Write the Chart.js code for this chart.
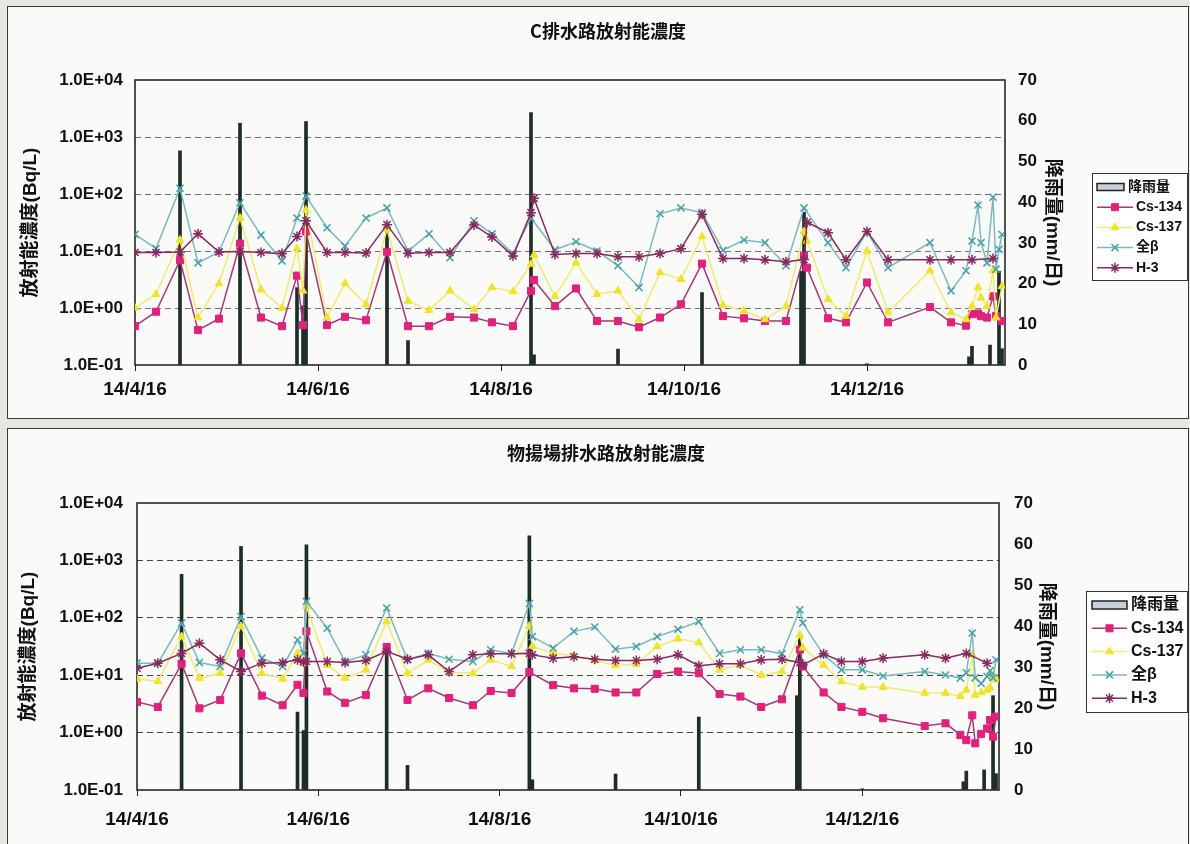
<!DOCTYPE html>
<html>
<head>
<meta charset="utf-8">
<script src="https://cdn.jsdelivr.net/npm/chart.js@4.4.1/dist/chart.umd.min.js"></script>
<style>
  body { margin: 0; width: 1190px; height: 844px; background: #e6e6e3; position: relative; overflow: hidden; }
  .panel { position: absolute; left: 7px; width: 1182px; background: #fafaf8; border: 1px solid #3a3a3a; box-sizing: border-box; }
  canvas { position: absolute; left: 8px; }
  .title { position: absolute; width: 400px; text-align: center; font: bold 18px 'Noto Sans CJK JP', sans-serif; line-height: 22px; color: #111; }
</style>
</head>
<body>
<div class="panel" style="top:6px;height:413px"></div>
<div class="panel" style="top:428px;height:420px"></div>
<canvas id="cDrain" width="1180" height="412" style="top:6px"></canvas>
<canvas id="wharf" width="1180" height="416" style="top:428px"></canvas>
<div class="title" style="left:408px;top:19px">C排水路放射能濃度</div>
<div class="title" style="left:406px;top:441px">物揚場排水路放射能濃度</div>

<script>
// 採水日
const sampleDates = [
    '2014-04-16', '2014-04-23', '2014-05-01', '2014-05-07', '2014-05-14', '2014-05-21', '2014-05-28', '2014-06-04', '2014-06-09', '2014-06-11',
    '2014-06-12', '2014-06-19', '2014-06-25', '2014-07-02', '2014-07-09', '2014-07-16', '2014-07-23', '2014-07-30', '2014-08-07', '2014-08-13',
    '2014-08-20', '2014-08-26', '2014-08-27', '2014-09-03', '2014-09-10', '2014-09-17', '2014-09-24', '2014-10-01', '2014-10-08', '2014-10-15',
    '2014-10-22', '2014-10-29', '2014-11-05', '2014-11-12', '2014-11-19', '2014-11-25', '2014-11-26', '2014-12-03', '2014-12-09', '2014-12-16',
    '2014-12-23', '2015-01-06', '2015-01-13', '2015-01-18', '2015-01-20', '2015-01-22', '2015-01-23', '2015-01-25', '2015-01-27', '2015-01-28',
    '2015-01-29', '2015-01-30'
];

// C排水路 (Bq/L)
const cDrainCs134 = [
    0.48, 0.86, 6.9, 0.41, 0.65, 13.5, 0.68, 0.48, 3.7, 0.5,
    22, 0.5, 0.70, 0.61, 9.7, 0.48, 0.48, 0.70, 0.68, 0.56,
    0.48, 2.0, 3.1, 1.08, 2.2, 0.59, 0.59, 0.46, 0.68, 1.16,
    6.0, 0.72, 0.66, 0.59, 0.59, 8.2, 5.1, 0.66, 0.56, 2.8,
    0.56, 1.04, 0.56, 0.49, 0.78, 0.8, 0.72, 0.68, 1.6, 0.72,
    null, 0.59
];
const cDrainCs137 = [
    1.0, 1.74, 15.6, 0.68, 2.7, 38, 2.1, 1.0, 11, 2.0,
    52, 0.68, 2.7, 1.16, 24, 1.33, 0.91, 2.0, 0.95, 2.3,
    1.95, 5.9, 8.5, 1.6, 6.2, 1.74, 2.0, 0.63, 4.2, 3.2,
    18, 1.13, 0.89, 0.63, 1.08, 22, 15, 1.42, 0.72, 10,
    0.83, 4.5, 0.83, 0.63, 1.08, 2.3, 1.5, 1.08, 4.5, 0.68,
    null, 2.4
];
const cDrainBeta = [
    19.6, 11, 126, 6.2, 9.6, 70, 19, 6.7, 38, null,
    92, 25.6, 12.2, 38, 57, 10, 20, 7.6, 34, 20,
    9, 38, null, 10.5, 14.5, 10, 5.5, 2.3, 45, 57,
    47, 10.3, 15.6, 14, 5.5, 57, null, 14, 5.1, 22,
    5.1, 14, 2.0, 4.5, 15, 64, 14, 6.2, 88, 4.8,
    10.7, 19.5
];
const cDrainH3 = [
    9.4, 9.4, 9.6, 20, 9.6, 9.8, 9.4, 9.0, 18, null,
    34, 9.4, 9.4, 9.2, 29, 9.1, 9.4, 9.4, 28.6, 17.6,
    8.2, 47, 84, 8.7, 9.0, 9.0, 7.9, 7.9, 9.0, 11,
    44, 7.4, 7.4, 7.0, 6.5, 7.1, 32, 21, 7.0, 22,
    7.0, 7.0, 7.0, null, 7.0, null, null, null, 7.4, null,
    null, null
];

// 物揚場排水路 (Bq/L)
const wharfCs134 = [
    3.4, 2.8, 15.8, 2.65, 3.7, 24, 4.4, 3.0, 6.8, 4.9,
    58, 5.2, 3.3, 4.5, 31, 3.7, 5.9, 4.0, 3.0, 5.3,
    4.9, 11.3, null, 6.7, 5.9, 5.8, 5.0, 5.0, 10.5, 11.6,
    10.8, 4.7, 4.25, 2.8, 3.8, 28, 14.2, 5.0, 2.8, 2.3,
    1.78, 1.3, 1.45, 0.91, 0.74, 2.0, 0.65, 0.95, 1.18, 1.65,
    0.85, 1.9
];
const wharfCs137 = [
    8.6, 7.8, 47, 8.9, 10.8, 71, 10.8, 8.6, 24, 16,
    158, 15, 8.9, 12.4, 86, 10.8, 18.5, 11.1, 10.8, 18.5,
    14.2, 72, 32, 24, 22, 18, 14.8, 15.5, 31.6, 43,
    37, 12.4, 15, 10, 11.6, 50, 30, 15, 7.8, 6.2,
    6.2, 4.9, 4.9, 4.3, 5.5, 22.6, 4.5, 5.0, 5.5, 6.0,
    10, 8.4
];
const wharfBeta = [
    16.2, 16.2, 81, 16.6, 14.2, 105, 19.8, 14.2, 41, 24,
    193, 66, 17.3, 22.6, 148, 18.5, 24, 19, 17.3, 27.7,
    24, 178, 47, 29.6, 58, 69, 28.4, 31.6, 47, 63,
    86, 24, 27.7, 27.7, 23.6, 138, 81, 22.6, 12.4, 12.4,
    9.7, 11.6, 10.1, 8.9, 11, 54, 9, 7.2, 9.5, 12,
    9, 18.6
];
const wharfH3 = [
    13.2, 16.2, 24, 36, 18.5, 11.6, 16.2, 16.6, 18.5, 17,
    17.3, 17.3, 16.6, 18, 26, 19, 22.6, 11.6, 22.6, 23.6,
    23.6, 24, 22.6, 19.8, 21, 19, 18, 18, 19, 22.6,
    14.6, 15.8, 15.8, 18.5, 19, 16.6, 15, 23.6, 17.3, 17.3,
    19.8, 22.6, 19.8, null, 24, null, null, null, 16.2, null,
    null, null
];

// 降雨量 (mm/日)
const rainDates = [
    '2014-05-01', '2014-05-21', '2014-06-09', '2014-06-11', '2014-06-12', '2014-07-09', '2014-07-16', '2014-08-26', '2014-08-27', '2014-09-24',
    '2014-10-22', '2014-11-24', '2014-11-25', '2014-12-16', '2015-01-19', '2015-01-20', '2015-01-26', '2015-01-29', '2015-01-30'
];
const rainMm = [52.6, 59.4, 19, 14.5, 59.8, 34.5, 6, 62, 2.5, 3.9, 17.8, 23, 37.5, 0.3, 2, 4.6, 4.9, 23, 4];

// 目盛
const xTickDates = ['2014-04-16', '2014-06-16', '2014-08-16', '2014-10-16', '2014-12-16'];
const xTickLabels = ['14/4/16', '14/6/16', '14/8/16', '14/10/16', '14/12/16'];
const concTicks = [0.1, 1, 10, 100, 1000, 10000];
const concTickLabels = ['1.0E-01', '1.0E+00', '1.0E+01', '1.0E+02', '1.0E+03', '1.0E+04'];
const rainTicks = [0, 10, 20, 30, 40, 50, 60, 70];

const FONT = "'Liberation Sans', 'Noto Sans CJK JP', sans-serif";
const day0 = Date.parse('2014-04-16T00:00:00Z');

function toDay(s) {
    return (Date.parse(s + 'T00:00:00Z') - day0) / 86400000;
}

function pts(values) {
    return sampleDates.map((d, i) => ({x: toDay(d), y: values[i]}));
}

const rainPoints = rainDates.map((d, i) => ({x: toDay(d), y: rainMm[i]}));

// 系列のスタイル
const styles = {
    cs134: {line: '#a03a78', mark: '#e0227c', shape: 'rect', r: 5, bw: 1},
    cs137: {line: '#eeeb70', mark: '#eee42a', shape: 'triangle', r: 4.5, bw: 1},
    beta: {line: '#7ab9bd', mark: '#45a0a9', shape: 'crossRot', r: 5, bw: 1.5},
    h3: {line: '#862a5f', mark: '#862a5f', shape: 'star', r: 5, bw: 1.5}
};

function lineSet(label, values, st, order) {
    return {
        type: 'line', label: label, data: pts(values), xAxisID: 'x', yAxisID: 'y',
        borderColor: st.line, borderWidth: 1.5, tension: 0, spanGaps: true, order: order,
        pointStyle: st.shape, pointRadius: st.r, pointBorderWidth: st.bw,
        pointBackgroundColor: st.mark, pointBorderColor: st.mark
    };
}

function drawMarker(ctx, shape, x, y, r) {
    ctx.beginPath();
    if (shape === 'rect') {
        let s = r * Math.SQRT1_2;
        ctx.rect(x - s, y - s, 2 * s, 2 * s);
        ctx.fill();
        ctx.stroke();
    } else if (shape === 'triangle') {
        ctx.moveTo(x, y - r);
        ctx.lineTo(x + r * 0.87, y + r * 0.5);
        ctx.lineTo(x - r * 0.87, y + r * 0.5);
        ctx.closePath();
        ctx.fill();
        ctx.stroke();
    } else {
        let d = r * Math.SQRT1_2;
        ctx.moveTo(x - d, y - d); ctx.lineTo(x + d, y + d);
        ctx.moveTo(x + d, y - d); ctx.lineTo(x - d, y + d);
        if (shape === 'star') {
            ctx.moveTo(x, y - r); ctx.lineTo(x, y + r);
            ctx.moveTo(x - r, y); ctx.lineTo(x + r, y);
        }
        ctx.stroke();
    }
}

// 凡例（枠付き）
const legendBox = {
    id: 'legendBox',
    afterDraw(chart, args, o) {
        const ctx = chart.ctx;
        ctx.save();
        ctx.fillStyle = '#ffffff';
        ctx.fillRect(o.x, o.y, o.w, o.h);
        ctx.strokeStyle = '#333';
        ctx.lineWidth = 1;
        ctx.strokeRect(o.x + 0.5, o.y + 0.5, o.w, o.h);
        ctx.font = 'bold ' + o.fontSize + 'px ' + FONT;
        ctx.textBaseline = 'middle';
        chart.data.datasets.forEach(function (ds, i) {
            let y = o.y + o.firstRow + i * o.rowStep;
            let x0 = o.x + o.iconLeft;
            if (ds.type === 'bar') {
                ctx.fillStyle = '#c7cfdb';
                ctx.strokeStyle = '#222';
                ctx.lineWidth = 1.5;
                ctx.beginPath();
                ctx.rect(x0, y - o.barH / 2, o.barW, o.barH);
                ctx.fill();
                ctx.stroke();
                ctx.fillStyle = '#111';
                ctx.fillText(ds.label, x0 + o.barW + o.barGap, y);
            } else {
                ctx.strokeStyle = ds.borderColor;
                ctx.lineWidth = 1.5;
                ctx.beginPath();
                ctx.moveTo(x0, y);
                ctx.lineTo(x0 + o.lineW, y);
                ctx.stroke();
                ctx.fillStyle = ds.pointBackgroundColor;
                ctx.strokeStyle = ds.pointBorderColor;
                ctx.lineWidth = ds.pointBorderWidth;
                drawMarker(ctx, ds.pointStyle, x0 + o.lineW / 2, y, ds.pointRadius);
                ctx.fillStyle = '#111';
                ctx.fillText(ds.label, x0 + o.lineW + o.lineGap, y);
            }
        });
        ctx.restore();
    }
};

// プロットエリアの枠
const plotFrame = {
    id: 'plotFrame',
    beforeDatasetsDraw(chart) {
        const a = chart.chartArea;
        const ctx = chart.ctx;
        ctx.save();
        ctx.strokeStyle = '#1a1a1a';
        ctx.lineWidth = 1.5;
        ctx.strokeRect(a.left, a.top, a.right - a.left, a.bottom - a.top);
        ctx.restore();
    }
};

function makeChart(id, s, L) {
    const tickFont = {family: FONT, size: 17, weight: 'bold'};
    const titleFont = {family: FONT, size: 19, weight: 'bold'};
    return new Chart(document.getElementById(id).getContext('2d'), {
        type: 'line',
        data: {
            datasets: [
                {
                    type: 'bar', label: '降雨量', data: rainPoints, xAxisID: 'x', yAxisID: 'y1',
                    backgroundColor: '#1f2d27', borderWidth: 0, barThickness: 3, order: 10
                },
                lineSet('Cs-134', s.cs134, styles.cs134, 4),
                lineSet('Cs-137', s.cs137, styles.cs137, 3),
                lineSet('全β', s.beta, styles.beta, 2),
                lineSet('H-3', s.h3, styles.h3, 1)
            ]
        },
        options: {
            responsive: false,
            animation: false,
            devicePixelRatio: 1,
            layout: {padding: {top: L.top, right: L.padRight, left: 0, bottom: 0}},
            plugins: {
                legend: {display: false},
                tooltip: {enabled: false},
                legendBox: L.legend
            },
            scales: {
                x: {
                    type: 'linear', position: 'bottom', min: 0, max: 290, offset: false,
                    afterBuildTicks: function (sc) { sc.ticks = xTickDates.map(d => ({value: toDay(d)})); },
                    afterFit: function (sc) { sc.height = L.xHeight; },
                    grid: {drawOnChartArea: false, drawTicks: true, tickLength: 6, color: '#222', offset: false},
                    border: {display: false},
                    ticks: {
                        autoSkip: false, maxRotation: 0, padding: L.xPad, color: '#111',
                        font: {family: FONT, size: 19, weight: 'bold'},
                        callback: function (v, i) { return xTickLabels[i]; }
                    }
                },
                y: {
                    type: 'logarithmic', position: 'left', min: 0.1, max: 10000,
                    afterBuildTicks: function (sc) { sc.ticks = concTicks.map(v => ({value: v})); },
                    afterFit: function (sc) { sc.width = L.left; },
                    grid: {
                        drawTicks: false, lineWidth: 1,
                        color: c => (c.tick && (c.tick.value <= 0.1 || c.tick.value >= 10000)) ? 'rgba(0,0,0,0)' : L.gridColor
                    },
                    border: {display: false, dash: [6, 4]},
                    ticks: {padding: L.yPad, color: '#111', font: tickFont, callback: function (v, i) { return concTickLabels[i]; }},
                    title: {display: true, text: '放射能濃度(Bq/L)', color: '#111', font: titleFont, padding: {top: L.yTitlePad, bottom: 0}}
                },
                y1: {
                    type: 'linear', position: 'right', min: 0, max: 70,
                    afterBuildTicks: function (sc) { sc.ticks = rainTicks.map(v => ({value: v})); },
                    afterFit: function (sc) { sc.width = 70; },
                    grid: {drawOnChartArea: false, drawTicks: false},
                    border: {display: false},
                    ticks: {padding: L.y1Pad, color: '#111', font: tickFont},
                    title: {display: true, text: '降雨量(mm/日)', color: '#111', font: titleFont, padding: {top: L.y1TitlePad, bottom: 0}}
                }
            }
        },
        plugins: [plotFrame, legendBox]
    });
}

makeChart('cDrain', {cs134: cDrainCs134, cs137: cDrainCs137, beta: cDrainBeta, h3: cDrainH3}, {
    top: 74, left: 127, padRight: 113, xHeight: 53, xPad: 7, yPad: 12, yTitlePad: 11,
    y1Pad: 13, y1TitlePad: 11, gridColor: '#707070',
    legend: {x: 1084, y: 167, w: 95, h: 107, firstRow: 14, rowStep: 20.2, fontSize: 14,
        iconLeft: 5, barW: 27, barH: 7, barGap: 4, lineW: 36, lineGap: 3}
});

makeChart('wharf', {cs134: wharfCs134, cs137: wharfCs137, beta: wharfBeta, h3: wharfH3}, {
    top: 75, left: 129, padRight: 119, xHeight: 54, xPad: 12, yPad: 14, yTitlePad: 9,
    y1Pad: 15, y1TitlePad: 11, gridColor: '#444444',
    legend: {x: 1078, y: 163, w: 101, h: 121, firstRow: 14, rowStep: 23.3, fontSize: 16,
        iconLeft: 6, barW: 35, barH: 8, barGap: 4, lineW: 35, lineGap: 4}
});
</script>
</body>
</html>
